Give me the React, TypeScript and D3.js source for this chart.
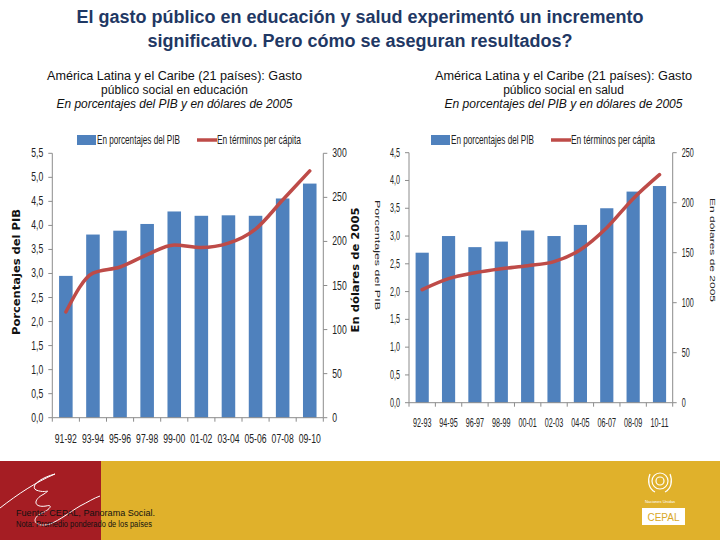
import React from "react";
import * as d3 from "d3";

const catsL = ["91-92", "93-94", "95-96", "97-98", "99-00", "01-02", "03-04", "05-06", "07-08", "09-10"];
const pibL = [2.95, 3.81, 3.89, 4.03, 4.29, 4.2, 4.21, 4.2, 4.56, 4.87];
const pcL = [120, 164, 171, 185, 196, 193, 198, 214, 247, 280];
const ticksLeftL = [0, 0.5, 1, 1.5, 2, 2.5, 3, 3.5, 4, 4.5, 5, 5.5];
const ticksRightL = [0, 50, 100, 150, 200, 250, 300];

const catsR = ["92-93", "94-95", "96-97", "98-99", "00-01", "02-03", "04-05", "06-07", "08-09", "10-11"];
const pibR = [2.7, 3.0, 2.8, 2.9, 3.1, 3.0, 3.2, 3.5, 3.8, 3.9];
const pcR = [113, 124, 130, 134, 137, 141, 153, 175, 204, 228];
const ticksLeftR = [0, 0.5, 1, 1.5, 2, 2.5, 3, 3.5, 4, 4.5];
const ticksRightR = [0, 50, 100, 150, 200, 250];

const legendBar = "En porcentajes del PIB";
const legendLine = "En términos per cápita";

const BAR = "#4F81BD";
const LINE = "#BE4B48";
const AXIS = "#8C8C8C";
const NARROW = "'Liberation Sans', Arial, sans-serif";
const SANS = "'Liberation Sans', Arial, sans-serif";

const fmt = (v: number) => d3.format(".1f")(v).replace(".", ",");

type ChartProps = {
  cats: string[];
  pib: number[];
  pc: number[];
  ticksL: number[];
  ticksR: number[];
  x0: number;
  x1: number;
  yTop: number;
  yBot: number;
  maxL: number;
  maxR: number;
  xLabelY: number;
  legendX: number;
  legendY: number;
  sx: number;
};

function Chart(p: ChartProps) {
  const x = d3.scaleBand<string>().domain(p.cats).range([p.x0, p.x1]).paddingInner(0.5).paddingOuter(0.25);
  const step = (p.x1 - p.x0) / p.cats.length;
  const yL = d3.scaleLinear().domain([0, p.maxL]).range([p.yBot, p.yTop]);
  const yR = d3.scaleLinear().domain([0, p.maxR]).range([p.yBot, p.yTop]);
  const line = d3
    .line<number>()
    .x((_, i) => (x(p.cats[i]) as number) + x.bandwidth() / 2)
    .y((d) => yR(d))
    .curve(d3.curveMonotoneX);
  const lx = p.legendX;
  const ly = p.legendY;
  return (
    <g>
      {p.pib.map((v, i) => (
        <rect key={i} x={x(p.cats[i])} y={yL(v)} width={x.bandwidth()} height={p.yBot - yL(v)} fill={BAR} />
      ))}
      <path d={line(p.pc) || ""} fill="none" stroke={LINE} strokeWidth={3.5} strokeLinecap="round" />
      <line x1={p.x0} x2={p.x0} y1={p.yTop} y2={p.yBot} stroke={AXIS} />
      <line x1={p.x1} x2={p.x1} y1={p.yTop} y2={p.yBot} stroke={AXIS} />
      <line x1={p.x0} x2={p.x1} y1={p.yBot} y2={p.yBot} stroke={AXIS} />
      {p.ticksL.map((t) => (
        <g key={"l" + t}>
          <line x1={p.x0 - 4} x2={p.x0} y1={yL(t)} y2={yL(t)} stroke={AXIS} />
          <text
            transform={`translate(${p.x0 - 9},${yL(t) + 4}) scale(${p.sx},1)`}
            textAnchor="end"
            fontFamily={NARROW}
            fontSize={12}
            fill="#222"
          >
            {fmt(t)}
          </text>
        </g>
      ))}
      {p.ticksR.map((t) => (
        <g key={"r" + t}>
          <line x1={p.x1} x2={p.x1 + 4} y1={yR(t)} y2={yR(t)} stroke={AXIS} />
          <text
            transform={`translate(${p.x1 + 9},${yR(t) + 4}) scale(${p.sx},1)`}
            textAnchor="start"
            fontFamily={NARROW}
            fontSize={12}
            fill="#222"
          >
            {t}
          </text>
        </g>
      ))}
      {d3.range(p.cats.length + 1).map((k) => (
        <line key={"xt" + k} x1={p.x0 + k * step} x2={p.x0 + k * step} y1={p.yBot} y2={p.yBot + 4} stroke={AXIS} />
      ))}
      {p.cats.map((c) => (
        <text
          key={"xl" + c}
          transform={`translate(${(x(c) as number) + x.bandwidth() / 2},${p.xLabelY}) scale(${p.sx},1)`}
          textAnchor="middle"
          fontFamily={NARROW}
          fontSize={12}
          fill="#222"
        >
          {c}
        </text>
      ))}
      <rect x={lx} y={ly - 5} width={19} height={10} fill={BAR} />
      <text transform={`translate(${lx + 20},${ly + 4}) scale(0.68,1)`} fontFamily={NARROW} fontSize={12} fill="#222">
        {legendBar}
      </text>
      <line x1={lx + 120} x2={lx + 140} y1={ly} y2={ly} stroke={LINE} strokeWidth={3.5} />
      <text transform={`translate(${lx + 140},${ly + 4}) scale(0.7,1)`} fontFamily={NARROW} fontSize={12} fill="#222">
        {legendLine}
      </text>
    </g>
  );
}

export default function App() {
  return (
    <svg width={720} height={540} style={{ position: "absolute", left: 0, top: 0, background: "#fff" }}>
      <rect x={0} y={0} width={720} height={540} fill="#fff" />
      <text x={360} y={23} textAnchor="middle" fontFamily={SANS} fontWeight="bold" fontSize={18} fill="#1F3864">
        El gasto público en educación y salud experimentó un incremento
      </text>
      <text x={360} y={47} textAnchor="middle" fontFamily={SANS} fontWeight="bold" fontSize={18} fill="#1F3864">
        significativo. Pero cómo se aseguran resultados?
      </text>
      <g fontFamily={SANS} fontSize={12} fill="#111" textAnchor="middle">
        <text x={174.5} y={80} textLength={255} lengthAdjust="spacingAndGlyphs">América Latina y el Caribe (21 países): Gasto</text>
        <text x={174.5} y={94}>público social en educación</text>
        <text x={174.5} y={108} fontStyle="italic" textLength={236} lengthAdjust="spacingAndGlyphs">En porcentajes del PIB y en dólares de 2005</text>
        <text x={563.5} y={80} textLength={257} lengthAdjust="spacingAndGlyphs">América Latina y el Caribe (21 países): Gasto</text>
        <text x={563.5} y={94}>público social en salud</text>
        <text x={563.5} y={108} fontStyle="italic" textLength={238} lengthAdjust="spacingAndGlyphs">En porcentajes del PIB y en dólares de 2005</text>
      </g>

      <Chart
        cats={catsL}
        pib={pibL}
        pc={pcL}
        ticksL={ticksLeftL}
        ticksR={ticksRightL}
        x0={52.3}
        x1={323.3}
        yTop={153.3}
        yBot={417.7}
        maxL={5.5}
        maxR={300}
        xLabelY={443}
        legendX={77}
        legendY={140}
        sx={0.72}
      />
      <Chart
        cats={catsR}
        pib={pibR}
        pc={pcR}
        ticksL={ticksLeftR}
        ticksR={ticksRightR}
        x0={409}
        x1={672.7}
        yTop={152.7}
        yBot={402.7}
        maxL={4.5}
        maxR={250}
        xLabelY={427}
        legendX={431}
        legendY={140}
        sx={0.6}
      />
      <text transform="translate(20,272) rotate(-90)" textAnchor="middle" fontFamily="'DejaVu Sans', Verdana, sans-serif" fontWeight="bold" fontSize={10.5} fill="#111" textLength={126} lengthAdjust="spacingAndGlyphs">
        Porcentajes del PIB
      </text>
      <text transform="translate(359,270) rotate(-90)" textAnchor="middle" fontFamily="'DejaVu Sans', Verdana, sans-serif" fontWeight="bold" fontSize={10.5} fill="#111" textLength={125} lengthAdjust="spacingAndGlyphs">
        En dólares de 2005
      </text>
      <text transform="translate(375,255) rotate(90)" textAnchor="middle" fontFamily={NARROW} fontSize={8} fill="#222" textLength={110} lengthAdjust="spacingAndGlyphs">
        Porcentajes del PIB
      </text>
      <text transform="translate(710,250) rotate(90)" textAnchor="middle" fontFamily={NARROW} fontSize={8} fill="#222" textLength={104} lengthAdjust="spacingAndGlyphs">
        En dólares de 2005
      </text>

      <rect x={0} y={461} width={720} height={79} fill="#E0B12B" />
      <rect x={0} y={461} width={101} height={79} fill="#A51D23" />
      <path
        d="M0,508 C18,494 36,482 55,474 C40,478 30,486 36,490 C46,494 52,488 44,494 C32,500 34,508 46,506 C54,504 50,510 40,514 C30,520 36,528 50,524 C60,520 70,512 80,506 C88,502 94,498 100,496"
        fill="none"
        stroke="#fff"
        strokeWidth={1}
      />
      <text x={16} y={516} fontFamily={SANS} fontSize={8.5} fill="#111" textLength={139} lengthAdjust="spacingAndGlyphs">
        Fuente: CEPAL, Panorama Social.
      </text>
      <text x={16} y={527} fontFamily={SANS} fontSize={8.5} fill="#111" textLength={136} lengthAdjust="spacingAndGlyphs">
        Nota: Promedio ponderado de los países
      </text>
      <g fill="none" stroke="#fff" strokeWidth={1.2}>
        <circle cx={660} cy={481} r={8} />
        <circle cx={660} cy={481} r={4} />
        <path d="M650,474 C647,481 649,489 655,492 M670,474 C673,481 671,489 665,492" />
      </g>
      <text x={660} y={503} textAnchor="middle" fontFamily={SANS} fontSize={4} fill="#fff">
        Naciones Unidas
      </text>
      <rect x={642} y={508} width={43} height={17} fill="#fff" />
      <text x={663.5} y={520.5} textAnchor="middle" fontFamily={SANS} fontSize={10} fill="#D9A828" textLength={32} lengthAdjust="spacingAndGlyphs">
        CEPAL
      </text>
    </svg>
  );
}
